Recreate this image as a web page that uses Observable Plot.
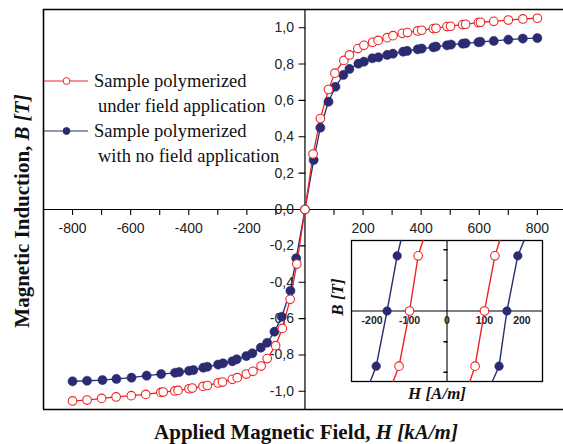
<!DOCTYPE html>
<html><head><meta charset="utf-8">
<script src="https://cdn.jsdelivr.net/npm/d3@7"></script>
<script src="https://cdn.jsdelivr.net/npm/@observablehq/plot@0.6"></script>
<style>
html,body{margin:0;padding:0;background:#fff;}
#wrap{position:relative;width:563px;height:444px;overflow:hidden;background:#fff;}
#main{position:absolute;left:0;top:0;}
#inset{position:absolute;left:325px;top:232px;}
</style></head><body>
<div id="wrap"><div id="main"></div><div id="inset"></div></div>
<script>
// ---- data (H in kA/m, B in T) ----
const redNegH = [-800, -750, -700, -650, -598, -548, -496, -488, -448, -437, -399, -388, -351, -336, -299, -284, -250, -233, -202, -179, -151, -130, -101, -78, -51, -28];
const redNegB = [-1.053, -1.048, -1.039, -1.031, -1.024, -1.017, -1.006, -1.004, -0.998, -0.995, -0.986, -0.982, -0.973, -0.968, -0.954, -0.949, -0.934, -0.925, -0.905, -0.89, -0.861, -0.82, -0.749, -0.654, -0.494, -0.30];
const redPosH = [0, 28, 53, 81, 103, 134, 153, 182, 203, 233, 252, 283, 303, 335, 353, 388, 402, 442, 451, 489, 501, 543, 553, 597, 604, 650, 700, 750, 800];
const redPosB = [0, 0.305, 0.50, 0.66, 0.75, 0.82, 0.85, 0.885, 0.903, 0.92, 0.93, 0.945, 0.956, 0.969, 0.973, 0.982, 0.986, 0.995, 0.997, 1.006, 1.008, 1.017, 1.019, 1.028, 1.03, 1.035, 1.042, 1.048, 1.052];
const blueNegH = [-800, -750, -697, -649, -597, -545, -495, -447, -433, -399, -384, -350, -336, -299, -282, -250, -235, -202, -181, -152, -130, -105, -80, -50, -30];
const blueNegB = [-0.945, -0.942, -0.938, -0.932, -0.925, -0.914, -0.905, -0.898, -0.894, -0.887, -0.883, -0.87, -0.865, -0.853, -0.846, -0.835, -0.824, -0.806, -0.791, -0.76, -0.733, -0.672, -0.59, -0.447, -0.268];
const bluePosH = [0, 30, 53, 81, 105, 132, 153, 184, 203, 232, 253, 283, 303, 338, 352, 388, 402, 442, 451, 489, 503, 543, 553, 597, 604, 650, 700, 750, 800];
const bluePosB = [0, 0.272, 0.45, 0.593, 0.675, 0.74, 0.773, 0.802, 0.813, 0.832, 0.837, 0.85, 0.857, 0.868, 0.872, 0.881, 0.885, 0.892, 0.896, 0.903, 0.907, 0.912, 0.914, 0.92, 0.922, 0.927, 0.934, 0.94, 0.943];

const xTickLabels = [-800, -600, -400, -200, 200, 400, 600, 800];
const xTickMarks = [-800, -700, -600, -500, -400, -300, -200, -100, 100, 200, 300, 400, 500, 600, 700, 800];
const yTickLabels = [-1.0, -0.8, -0.6, -0.4, -0.2, 0.0, 0.2, 0.4, 0.6, 0.8, 1.0];

// inset (H in A/m, B in T)
const insetB = [-0.0023, -0.0018, 0, 0.0018, 0.0023];
const insetRedLeftH = [-144, -128, -100, -77, -64];
const insetBlueLeftH = [-205, -189, -160, -133, -123];
const insetRedRightH = [61, 75, 100, 128, 141];
const insetBlueRightH = [121, 139, 160, 189, 206];
const insetXLabels = [-200, -100, 0, 100, 200];
const insetYTicks = [-0.002, -0.001, 0.001, 0.002];

const legendLabels = [
  ["Sample polymerized", "under field application"],
  ["Sample polymerized", "with no field application"]
];

// ---- build tables ----
const RED = "#ec2424", BLUE = "#2b2b72";
const toRows = (H, B) => H.map((h, i) => ({H: h, B: B[i]}));
const red = toRows(redNegH, redNegB).concat(toRows(redPosH, redPosB));
const blue = toRows(blueNegH, blueNegB).concat(toRows(bluePosH, bluePosB));
const fmtY = v => v.toFixed(1).replace(".", ",");
const tickShape = {draw(ctx, l) { ctx.moveTo(0, 0); ctx.lineTo(0, -l); }};
const sans = "'Liberation Sans', Arial, sans-serif";
const serif = "'Liberation Serif', 'Times New Roman', serif";

const main = Plot.plot({
  width: 563, height: 444,
  marginLeft: 43, marginRight: 0, marginTop: 9, marginBottom: 35,
  x: {domain: [-900, 890], axis: null},
  y: {domain: [-1.1, 1.1], axis: null},
  style: {background: "#fff", fontFamily: sans, overflow: "visible"},
  marks: [
    Plot.ruleY([1.1, -1.1], {stroke: "#000", strokeWidth: 1.6}),
    Plot.ruleX([-900], {stroke: "#000", strokeWidth: 1.6}),
    Plot.ruleY([0], {stroke: "#000", strokeWidth: 1.2}),
    Plot.ruleX([0], {stroke: "#000", strokeWidth: 1.2}),
    Plot.vector(xTickMarks, {x: d => d, y: 0, length: 5, rotate: 180, anchor: "start", shape: tickShape, stroke: "#000", strokeWidth: 1.1}),
    Plot.vector(yTickLabels, {x: 0, y: d => d, length: 6, rotate: -90, anchor: "start", shape: tickShape, stroke: "#000", strokeWidth: 1.1}),
    Plot.text(xTickLabels, {x: d => d, y: 0, dy: 19, text: d => String(d), fontSize: 14, fill: "#222"}),
    Plot.text(yTickLabels, {x: 0, y: d => d, dx: -11, text: fmtY, textAnchor: "end", fontSize: 14, fill: "#222"}),
    Plot.line(blue, {x: "H", y: "B", stroke: BLUE, strokeWidth: 1.3}),
    Plot.line(red, {x: "H", y: "B", stroke: RED, strokeWidth: 1.3}),
    Plot.dot(blue, {x: "H", y: "B", r: 4.6, fill: BLUE, stroke: BLUE, strokeWidth: 0.5}),
    Plot.dot(red, {x: "H", y: "B", r: 4.3, fill: "#fff", stroke: RED, strokeWidth: 1.1})
  ]
});
document.getElementById("main").appendChild(main);

// axis titles and legend
const svg = d3.select(main);
const xt = svg.append("text").attr("x", 306).attr("y", 432).attr("dy", "0.35em")
  .attr("text-anchor", "middle").attr("font-family", serif).attr("font-size", 21)
  .attr("font-weight", "bold").attr("fill", "#111");
xt.append("tspan").text("Applied Magnetic Field, ");
xt.append("tspan").attr("font-style", "italic").text("H [kA/m]");
const yt = svg.append("text").attr("transform", "translate(22,211) rotate(-90)").attr("dy", "0.35em")
  .attr("text-anchor", "middle").attr("font-family", serif).attr("font-size", 21)
  .attr("font-weight", "bold").attr("fill", "#111");
yt.append("tspan").text("Magnetic Induction, ");
yt.append("tspan").attr("font-style", "italic").text("B [T]");

const legY = [81, 131];
legendLabels.forEach((lines, i) => {
  const c = i === 0 ? RED : BLUE;
  const g = svg.append("g");
  g.append("line").attr("x1", 44).attr("x2", 88).attr("y1", legY[i]).attr("y2", legY[i]).attr("stroke", c).attr("stroke-width", 1.2);
  g.append("circle").attr("cx", 66.5).attr("cy", legY[i]).attr("r", 3.4)
    .attr("fill", i === 0 ? "#fff" : c).attr("stroke", c).attr("stroke-width", 1);
  g.append("text").attr("x", 94).attr("y", legY[i]).attr("dy", "0.35em").attr("text-anchor", "start")
    .attr("font-family", serif).attr("font-size", 18.5).attr("fill", "#111").text(lines[0]);
  g.append("text").attr("x", 98).attr("y", legY[i] + 25).attr("dy", "0.35em").attr("text-anchor", "start")
    .attr("font-family", serif).attr("font-size", 18.5).attr("fill", "#111").text(lines[1]);
});

// ---- inset ----
const insetLines = [
  {H: insetRedLeftH, c: RED, open: true},
  {H: insetRedRightH, c: RED, open: true},
  {H: insetBlueLeftH, c: BLUE, open: false},
  {H: insetBlueRightH, c: BLUE, open: false}
];
const insetMarks = [
  Plot.frame({stroke: "#000", strokeWidth: 1.3}),
  Plot.ruleY([0], {stroke: "#000", strokeWidth: 1.1}),
  Plot.ruleX([0], {stroke: "#000", strokeWidth: 1.1}),
  Plot.vector(insetYTicks, {x: 0, y: d => d, length: 3, rotate: -90, anchor: "start", shape: tickShape, stroke: "#000"}),
  Plot.text(insetXLabels, {x: d => d, y: 0, dy: 10, text: d => String(d), fontSize: 10.5, fontWeight: "bold", fill: "#222"})
];
insetLines.forEach(s => {
  const rows = toRows(s.H, insetB);
  insetMarks.push(Plot.line(rows, {x: "H", y: "B", stroke: s.c, strokeWidth: 1.4}));
  insetMarks.push(Plot.dot(rows.filter(d => Math.abs(d.B) < 0.002), {x: "H", y: "B", r: 4.3,
    fill: s.open ? "#fff" : s.c, stroke: s.c, strokeWidth: s.open ? 1.1 : 0.5}));
});
const inset = Plot.plot({
  width: 230, height: 178,
  marginLeft: 26, marginRight: 13, marginTop: 8, marginBottom: 29,
  x: {domain: [-255, 255], axis: null},
  y: {domain: [-0.0023, 0.0023], axis: null},
  style: {background: "transparent", fontFamily: sans, overflow: "visible"},
  marks: insetMarks
});
document.getElementById("inset").appendChild(inset);
const isvg = d3.select(inset);
isvg.append("text").attr("x", 112).attr("y", 161).attr("dy", "0.35em").attr("text-anchor", "middle")
  .attr("font-family", serif).attr("font-size", 17).attr("font-weight", "bold").attr("font-style", "italic")
  .attr("fill", "#111").text("H [A/m]");
isvg.append("text").attr("transform", "translate(12,65) rotate(-90)").attr("dy", "0.35em")
  .attr("text-anchor", "middle").attr("font-family", serif).attr("font-size", 17).attr("font-weight", "bold")
  .attr("font-style", "italic").attr("fill", "#111").text("B [T]");
</script>
</body></html>
